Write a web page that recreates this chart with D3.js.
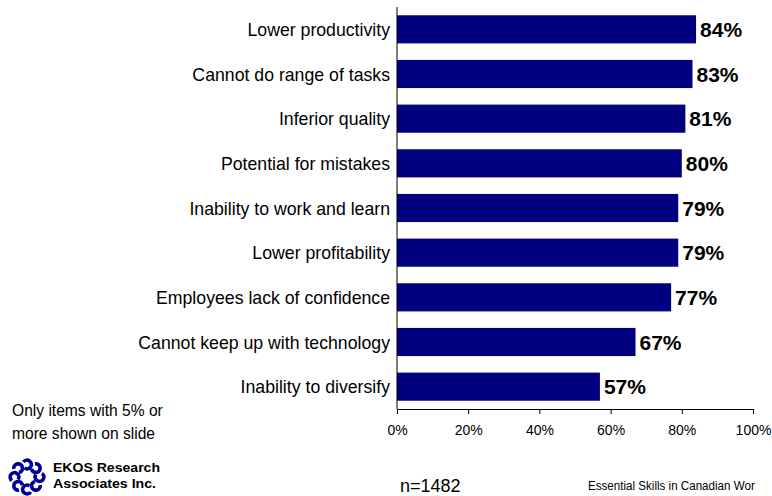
<!DOCTYPE html>
<html><head><meta charset="utf-8">
<script src="https://cdn.jsdelivr.net/npm/d3@7"></script>
<style>
body{margin:0;background:#fff;}
svg{display:block;}
.narrow{font-family:"Liberation Sans Narrow","Arial Narrow","Liberation Sans",Arial,sans-serif;}
</style></head>
<body>
<svg id="c" width="772" height="496"></svg>
<script>
const categories = ["Lower productivity","Cannot do range of tasks","Inferior quality","Potential for mistakes","Inability to work and learn","Lower profitability","Employees lack of confidence","Cannot keep up with technology","Inability to diversify"];
const values = [84,83,81,80,79,79,77,67,57];
const tickValues = [0,20,40,60,80,100];

const svg = d3.select("#c");
const x = d3.scaleLinear().domain([0,100]).range([397,753]);
const y = d3.scaleBand().domain(categories).range([7,409]).paddingInner(0.37).paddingOuter(0.185);

// bars
svg.selectAll("rect.bar").data(values).enter().append("rect")
  .attr("x", x(0)).attr("y",(d,i)=>y(categories[i]))
  .attr("width", d=>x(d)-x(0)).attr("height", y.bandwidth())
  .attr("fill","#000080");

// value labels
svg.selectAll("text.val").data(values).enter().append("text")
  .attr("x", d=>x(d)+4).attr("y",(d,i)=>y(categories[i])+y.bandwidth()/2+7.5)
  .attr("font-family","Liberation Sans, Arial, sans-serif").attr("font-weight","bold")
  .attr("font-size",21).attr("fill","#000").text(d=>d+"%");

// category labels
svg.selectAll("text.cat").data(categories).enter().append("text")
  .attr("class","narrow")
  .attr("x",390).attr("y",d=>y(d)+y.bandwidth()/2+6.5)
  .attr("text-anchor","end").attr("font-size",17.7).attr("fill","#000").text(d=>d);

// y axis line
svg.append("line").attr("x1",x(0)).attr("x2",x(0)).attr("y1",7).attr("y2",409)
  .attr("stroke","#000").attr("stroke-width",1);

// x axis
const xAxis = d3.axisBottom(x).tickValues(tickValues).tickFormat(d=>d+"%").tickSize(5).tickSizeOuter(0);
const gx = svg.append("g").attr("transform","translate(0,409)").call(xAxis);
gx.select(".domain").attr("stroke","#000");
gx.selectAll(".tick line").attr("stroke","#000");
gx.selectAll(".tick text").attr("font-family","Liberation Sans, Arial, sans-serif")
  .attr("font-size",14).attr("fill","#000").attr("dy",null).attr("y",26);

// note
const note = svg.append("text").attr("class","narrow").attr("font-size",15.6).attr("fill","#000");
note.append("tspan").attr("x",12).attr("y",416).text("Only items with 5% or");
note.append("tspan").attr("x",12).attr("y",439).text("more shown on slide");

// footer
svg.append("text").attr("class","narrow").attr("x",400).attr("y",492).attr("font-size",18).attr("fill","#000").text("n=1482");
svg.append("text").attr("class","narrow").attr("transform","translate(588,490) scale(0.86,1)")
  .attr("x",0).attr("y",0).attr("font-size",13.5)
  .attr("fill","#000").text("Essential Skills in Canadian Wor");

// logo
const logo = svg.append("g").attr("transform","translate(27,477)");
d3.range(8).forEach(i=>{
  const a = i*Math.PI/4;
  const cx = 12.5*Math.cos(a), cy = 12.5*Math.sin(a);
  logo.append("path")
    .attr("d", d3.arc().innerRadius(2.5).outerRadius(6.2).startAngle(a+0.6).endAngle(a+0.6+Math.PI*1.5)())
    .attr("transform",`translate(${cx},${cy})`)
    .attr("fill","#000099");
});
svg.append("text").attr("x",53).attr("y",472).attr("font-family","Liberation Sans, Arial, sans-serif")
  .attr("font-weight","bold").attr("font-size",13).attr("textLength",107).attr("lengthAdjust","spacingAndGlyphs")
  .attr("fill","#000").text("EKOS Research");
svg.append("text").attr("x",53).attr("y",487.5).attr("font-family","Liberation Sans, Arial, sans-serif")
  .attr("font-weight","bold").attr("font-size",13).attr("textLength",103).attr("lengthAdjust","spacingAndGlyphs")
  .attr("fill","#000").text("Associates Inc.");
</script>
</body></html>
